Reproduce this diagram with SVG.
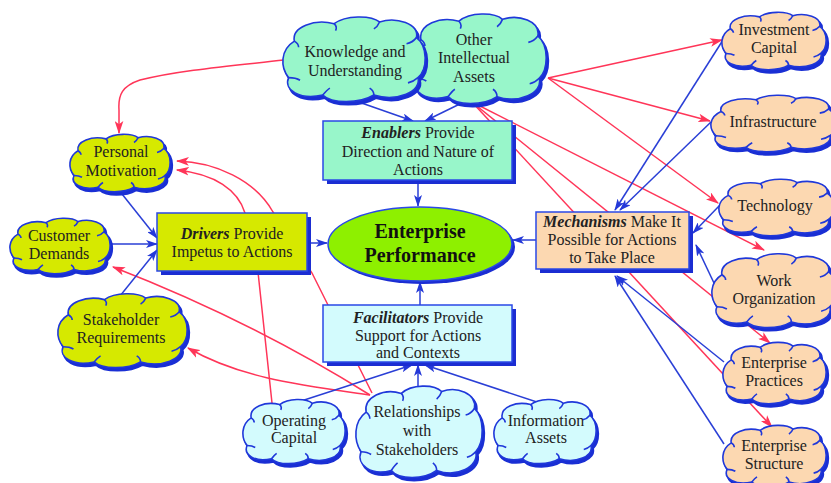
<svg xmlns="http://www.w3.org/2000/svg" xmlns:xlink="http://www.w3.org/1999/xlink" width="831" height="483" viewBox="0 0 831 483">
<style>
.t{font-family:"Liberation Serif","Times New Roman",serif;font-size:16px;fill:#222;text-anchor:middle}
.bi{font-weight:bold;font-style:italic}
.cs{fill:#1a2fd4;stroke:#1a2fd4;stroke-width:2}
.c{stroke:#1f38da;stroke-width:1.6}
.mint{fill:#98f6ca}.yel{fill:#d6e900}.peach{fill:#fcd8b1}.cyan{fill:#d3fbfd}
.bs{fill:#1b2dd2}
.b{stroke:#2a48e6;stroke-width:1.5}
.r{fill:none;stroke:#ff3558;stroke-width:1.5}
.bl{fill:none;stroke:#2a3fd6;stroke-width:1.5}
</style>
<defs>
<g id="cloud">
<path vector-effect="non-scaling-stroke" d="M8,30 C6,14 22,4 36,10 C44,0 62,0 68,8 C80,2 96,10 94,26 C102,36 102,62 95,72 C98,88 80,100 64,92 C54,102 34,102 28,92 C12,98 0,86 4,72 C-2,60 -2,40 8,30 Z"/>
<path vector-effect="non-scaling-stroke" fill="none" d="M36,10 C38,13 38,15 37,18 M68,8 C67,12 66,14 64,16 M94,26 C92,30 90,32 87,33 M95,72 C93,75 91,77 88,78 M64,92 C64,88 63,86 61,84 M28,92 C30,88 31,86 33,84 M4,72 C7,72 10,73 12,75 M8,30 C10,32 11,34 11,37"/>
</g>
<marker id="ar" viewBox="0 0 12 8" refX="11" refY="4" markerWidth="13" markerHeight="9" markerUnits="userSpaceOnUse" orient="auto"><path d="M0,0 L12,4 L0,8 L3,4 Z" fill="#ff3558"/></marker>
<marker id="ab" viewBox="0 0 12 8" refX="11" refY="4" markerWidth="12" markerHeight="8" markerUnits="userSpaceOnUse" orient="auto"><path d="M0,0 L12,4 L0,8 L3,4 Z" fill="#2438d8"/></marker>
</defs>
<rect width="831" height="483" fill="#fff"/>

<g id="connectors">
<path class="r" marker-end="url(#ar)" d="M284,60 C230,66 180,70 140,80 C122,86 118,95 119,110 L119,133"/>
<path class="r" marker-end="url(#ar)" d="M272,403 L258,272 L245,213 C238,190 215,174 177,170"/>
<path class="r" marker-end="url(#ar)" d="M372,393 L312,273 L273,212 C255,180 215,162 177,161"/>
<path class="r" marker-end="url(#ar)" d="M370,395 Q250,320 113,267"/>
<path class="r" marker-end="url(#ar)" d="M370,395 C300,385 240,378 188,348"/>
<path class="r" marker-end="url(#ar)" d="M548,78 L722,40"/>
<path class="r" marker-end="url(#ar)" d="M548,78 L710,121"/>
<path class="r" marker-end="url(#ar)" d="M548,78 L718,203"/>
<path class="r" marker-end="url(#ar)" d="M472,102 L764,250"/>
<path class="r" marker-end="url(#ar)" d="M472,102 L770,343"/>
<path class="r" marker-end="url(#ar)" d="M472,102 L772,427"/>
<path class="bl" marker-end="url(#ab)" d="M353,100 L413,121"/>
<path class="bl" marker-end="url(#ab)" d="M470,99 L425,121"/>
<path class="bl" marker-end="url(#ab)" d="M418,181 L418,206"/>
<path class="bl" marker-end="url(#ab)" d="M307,243 L327,243"/>
<path class="bl" marker-end="url(#ab)" d="M536,240 L513,240"/>
<path class="bl" marker-end="url(#ab)" d="M420,305 L420,282"/>
<path class="bl" marker-end="url(#ab)" d="M122,194 L157,238"/>
<path class="bl" marker-end="url(#ab)" d="M112,244 L157,244"/>
<path class="bl" marker-end="url(#ab)" d="M120,296 L157,250"/>
<path class="bl" marker-end="url(#ab)" d="M295,403 L412,365"/>
<path class="bl" marker-end="url(#ab)" d="M418,390 L418,365"/>
<path class="bl" marker-end="url(#ab)" d="M543,404 L425,365"/>
<path class="bl" marker-end="url(#ab)" d="M723,40 L615,210"/>
<path class="bl" marker-end="url(#ab)" d="M711,122 L620,210"/>
<path class="bl" marker-end="url(#ab)" d="M720,205 L693,233"/>
<path class="bl" marker-end="url(#ab)" d="M722,300 L696,245"/>
<path class="bl" marker-end="url(#ab)" d="M724,362 L617,276"/>
<path class="bl" marker-end="url(#ab)" d="M724,444 L615,276"/>
</g>

<g id="other-intellectual-assets">
<use xlink:href="#cloud" class="cs" transform="translate(412,15) scale(1.36,0.92)"/>
<use xlink:href="#cloud" class="c mint" transform="translate(410,12) scale(1.36,0.92)"/>
<text class="t" x="474" y="45">Other</text>
<text class="t" x="474" y="63">Intellectual</text>
<text class="t" x="474" y="82">Assets</text>
</g>
<g id="knowledge">
<use xlink:href="#cloud" class="cs" transform="translate(285,18) scale(1.42,0.87)"/>
<use xlink:href="#cloud" class="c mint" transform="translate(283,15) scale(1.42,0.87)"/>
<text class="t" x="355" y="57">Knowledge and</text>
<text class="t" x="355" y="76">Understanding</text>
</g>

<g id="enablers">
<rect class="bs" x="327" y="125" width="189" height="59"/>
<rect class="b mint" x="323" y="121" width="189" height="59"/>
<text class="t" x="418" y="138"><tspan class="bi">Enablers</tspan> Provide</text>
<text class="t" x="418" y="157">Direction and Nature of</text>
<text class="t" x="418" y="175">Actions</text>
</g>

<g id="performance">
<ellipse cx="423" cy="247" rx="92" ry="37" fill="#1b2dd2"/>
<ellipse cx="420" cy="244" rx="92" ry="37" fill="#8ef000" stroke="#2a48e6" stroke-width="1.5"/>
<text class="t" x="420" y="238" style="font-size:20px;font-weight:bold;fill:#111">Enterprise</text>
<text class="t" x="420" y="262" style="font-size:20px;font-weight:bold;fill:#111">Performance</text>
</g>

<g id="drivers">
<rect class="bs" x="161" y="217" width="150" height="58"/>
<rect class="b yel" x="157" y="213" width="150" height="58"/>
<text class="t" x="232" y="239"><tspan class="bi">Drivers</tspan> Provide</text>
<text class="t" x="232" y="257">Impetus to Actions</text>
</g>

<g id="mechanisms">
<rect class="bs" x="540" y="216" width="153" height="57"/>
<rect class="b peach" x="536" y="212" width="153" height="57"/>
<text class="t" x="612" y="227"><tspan class="bi">Mechanisms</tspan> Make It</text>
<text class="t" x="612" y="245">Possible for Actions</text>
<text class="t" x="612" y="263">to Take Place</text>
</g>

<g id="facilitators">
<rect class="bs" x="327" y="309" width="189" height="57"/>
<rect class="b cyan" x="323" y="305" width="189" height="57"/>
<text class="t" x="418" y="323"><tspan class="bi">Facilitators</tspan> Provide</text>
<text class="t" x="418" y="341">Support for Actions</text>
<text class="t" x="418" y="358">and Contexts</text>
</g>

<g id="personal-motivation">
<use xlink:href="#cloud" class="cs" transform="translate(72,136) scale(1.0,0.59)"/>
<use xlink:href="#cloud" class="c yel" transform="translate(70,133) scale(1.0,0.59)"/>
<text class="t" x="121" y="157">Personal</text>
<text class="t" x="121" y="176">Motivation</text>
</g>
<g id="customer-demands">
<use xlink:href="#cloud" class="cs" transform="translate(12,220) scale(1.0,0.57)"/>
<use xlink:href="#cloud" class="c yel" transform="translate(10,217) scale(1.0,0.57)"/>
<text class="t" x="59" y="241">Customer</text>
<text class="t" x="59" y="259">Demands</text>
</g>
<g id="stakeholder-requirements">
<use xlink:href="#cloud" class="cs" transform="translate(60,295) scale(1.29,0.76)"/>
<use xlink:href="#cloud" class="c yel" transform="translate(58,292) scale(1.29,0.76)"/>
<text class="t" x="121" y="325">Stakeholder</text>
<text class="t" x="121" y="343">Requirements</text>
</g>

<g id="operating-capital">
<use xlink:href="#cloud" class="cs" transform="translate(245,401) scale(1.02,0.66)"/>
<use xlink:href="#cloud" class="c cyan" transform="translate(243,398) scale(1.02,0.66)"/>
<text class="t" x="294" y="426">Operating</text>
<text class="t" x="294" y="443">Capital</text>
</g>
<g id="relationships">
<use xlink:href="#cloud" class="cs" transform="translate(358,387) scale(1.26,0.94)"/>
<use xlink:href="#cloud" class="c cyan" transform="translate(356,384) scale(1.26,0.94)"/>
<text class="t" x="417" y="417">Relationships</text>
<text class="t" x="417" y="436">with</text>
<text class="t" x="417" y="455">Stakeholders</text>
</g>
<g id="information-assets">
<use xlink:href="#cloud" class="cs" transform="translate(496,401) scale(1.02,0.66)"/>
<use xlink:href="#cloud" class="c cyan" transform="translate(494,398) scale(1.02,0.66)"/>
<text class="t" x="546" y="426">Information</text>
<text class="t" x="546" y="443">Assets</text>
</g>

<g id="investment-capital">
<use xlink:href="#cloud" class="cs" transform="translate(724,14) scale(1.04,0.59)"/>
<use xlink:href="#cloud" class="c peach" transform="translate(722,11) scale(1.04,0.59)"/>
<text class="t" x="774" y="35">Investment</text>
<text class="t" x="774" y="53">Capital</text>
</g>
<g id="infrastructure">
<use xlink:href="#cloud" class="cs" transform="translate(713,97) scale(1.25,0.58)"/>
<use xlink:href="#cloud" class="c peach" transform="translate(711,94) scale(1.25,0.58)"/>
<text class="t" x="773" y="127">Infrastructure</text>
</g>
<g id="technology">
<use xlink:href="#cloud" class="cs" transform="translate(721,181) scale(1.15,0.58)"/>
<use xlink:href="#cloud" class="c peach" transform="translate(719,178) scale(1.15,0.58)"/>
<text class="t" x="775" y="211">Technology</text>
</g>
<g id="work-organization">
<use xlink:href="#cloud" class="cs" transform="translate(714,255) scale(1.24,0.76)"/>
<use xlink:href="#cloud" class="c peach" transform="translate(712,252) scale(1.24,0.76)"/>
<text class="t" x="774" y="286">Work</text>
<text class="t" x="774" y="304">Organization</text>
</g>
<g id="enterprise-practices">
<use xlink:href="#cloud" class="cs" transform="translate(725,344) scale(1.03,0.63)"/>
<use xlink:href="#cloud" class="c peach" transform="translate(723,341) scale(1.03,0.63)"/>
<text class="t" x="774" y="368">Enterprise</text>
<text class="t" x="774" y="386">Practices</text>
</g>
<g id="enterprise-structure">
<use xlink:href="#cloud" class="cs" transform="translate(725,427) scale(1.03,0.63)"/>
<use xlink:href="#cloud" class="c peach" transform="translate(723,424) scale(1.03,0.63)"/>
<text class="t" x="774" y="451">Enterprise</text>
<text class="t" x="774" y="469">Structure</text>
</g>
</svg>
